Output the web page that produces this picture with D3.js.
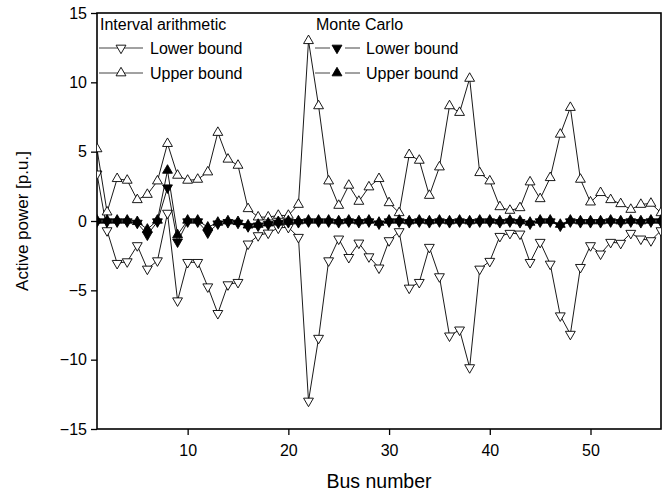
<!DOCTYPE html>
<html><head><meta charset="utf-8">
<script src="https://cdn.jsdelivr.net/npm/d3@7"></script>
<style>body{margin:0;background:#fff}svg{display:block}text{font-family:"Liberation Sans",Arial,sans-serif}</style>
</head><body><svg id="c" width="670" height="494"></svg>
<script>
const buses = d3.range(1, 58);
const iaUpper = [5.2,0.64,3.05,2.93,1.53,1.91,2.88,5.58,3.29,2.93,3.0,3.53,6.38,4.45,4.01,0.88,0.28,0.28,0.4,0.4,1.19,13.0,8.3,2.88,1.12,2.57,1.41,2.45,3.05,1.31,0.59,4.78,4.37,1.84,3.89,8.3,7.82,10.28,3.48,2.88,1.02,0.76,0.95,2.81,1.6,3.12,6.25,8.18,3.0,1.36,2.04,1.53,1.24,0.83,1.19,1.27,0.59];
const iaLower = [3.4,-0.69,-3.05,-2.93,-1.77,-3.46,-2.86,0.57,-5.75,-2.98,-2.98,-4.74,-6.66,-4.59,-4.42,-1.65,-1.05,-0.86,-0.5,-0.45,-1.17,-12.98,-8.45,-2.86,-1.29,-2.62,-1.58,-2.57,-3.38,-1.41,-0.76,-4.83,-4.42,-1.89,-4.01,-8.28,-7.85,-10.57,-3.46,-2.9,-1.1,-0.88,-0.93,-2.98,-1.53,-3.1,-6.83,-8.16,-3.34,-1.77,-2.37,-1.53,-1.6,-0.88,-1.29,-1.41,-0.69];
const mcUpper = [0.05,0.05,0.05,0.05,-0.05,-0.6,0.05,3.65,-1.0,0.05,0.05,-0.45,-0.1,0,-0.05,-0.3,-0.25,-0.15,-0.05,0,0,0.05,0.05,0.05,0,0.05,0,0.05,-0.1,0.05,0.05,0,0.05,0,0.05,0,0.05,0,0.05,0.05,0,0.05,0,-0.1,0.05,0.05,-0.25,0.05,0,0,0,0.05,0,0.05,0,0.05,0.05];
const mcLower = [-0.05,-0.05,-0.05,-0.05,-0.15,-1.0,-0.05,2.4,-1.5,-0.05,-0.05,-0.85,-0.2,-0.1,-0.15,-0.4,-0.35,-0.25,-0.15,-0.1,-0.1,-0.05,-0.05,-0.05,-0.1,-0.05,-0.1,-0.05,-0.2,-0.05,-0.05,-0.1,-0.05,-0.1,-0.05,-0.1,-0.05,-0.1,-0.05,-0.05,-0.1,-0.05,-0.1,-0.2,-0.05,-0.05,-0.35,-0.05,-0.1,-0.1,-0.1,-0.05,-0.1,-0.05,-0.1,-0.05,-0.05];
const xTicks = [10,20,30,40,50];
const yTicks = [-15,-10,-5,0,5,10,15];

const L=97,R=661,T=13,B=429;
const svg = d3.select("#c");
const x = d3.scaleLinear().domain([1,57]).range([L,R]);
const y = d3.scaleLinear().domain([-15,15]).range([B,T]);

const ax = svg.append("g").attr("transform",`translate(0,${B})`)
  .call(d3.axisBottom(x).tickValues(xTicks).tickSize(6).tickSizeOuter(0).tickPadding(10));
const ay = svg.append("g").attr("transform",`translate(${L},0)`)
  .call(d3.axisLeft(y).tickValues(yTicks).tickSize(6).tickSizeOuter(0).tickPadding(4));
[ax,ay].forEach(g=>{g.selectAll("text").attr("font-size",16).attr("fill","#000").style("font-family","Liberation Sans, Arial, sans-serif");
 g.selectAll("line").attr("stroke","#000").attr("stroke-width",1.3);
 g.select(".domain").remove();});
svg.append("rect").attr("x",L).attr("y",T).attr("width",R-L).attr("height",B-T)
  .attr("fill","none").attr("stroke","#000").attr("stroke-width",1.6);

svg.append("defs").append("clipPath").attr("id","pc").append("rect")
  .attr("x",L).attr("y",T-6).attr("width",R-L).attr("height",B-T+12);
const plot = svg.append("g").attr("clip-path","url(#pc)");
const line = d3.line().x((d,i)=>x(buses[i])).y(d=>y(d));
const tri = d3.symbol().type(d3.symbolTriangle).size(42);

function series(vals, down, fill){
  plot.append("path").datum(vals).attr("d",line).attr("fill","none").attr("stroke","#000").attr("stroke-width",0.9);
  plot.selectAll(null).data(vals).enter().append("path").attr("d",tri)
    .attr("transform",(d,i)=>`translate(${x(buses[i])},${y(d)})${down?" rotate(180)":""}`)
    .attr("fill",fill).attr("stroke","#000").attr("stroke-width",0.9);
}
series(iaLower,true,"#fff");
series(iaUpper,false,"#fff");
series(mcLower,true,"#000");
series(mcUpper,false,"#000");

// legend
const lg = svg.append("g").attr("font-size",16).attr("fill","#000");
function legItem(x0,yc,down,fill,label,gap){
  if(gap){
    lg.append("line").attr("x1",x0).attr("x2",x0+15).attr("y1",yc).attr("y2",yc).attr("stroke","#444").attr("stroke-width",1);
    lg.append("line").attr("x1",x0+30).attr("x2",x0+45).attr("y1",yc).attr("y2",yc).attr("stroke","#444").attr("stroke-width",1);
  } else {
    lg.append("line").attr("x1",x0).attr("x2",x0+44).attr("y1",yc).attr("y2",yc).attr("stroke","#444").attr("stroke-width",1);
  }
  lg.append("path").attr("d",tri).attr("transform",`translate(${x0+22},${yc})${down?" rotate(180)":""}`)
    .attr("fill",fill).attr("stroke","#000").attr("stroke-width",0.9);
  lg.append("text").attr("x",x0+51).attr("y",yc).attr("dy","0.35em").text(label);
}
lg.append("text").attr("x",100).attr("y",24).attr("dy","0.35em").text("Interval arithmetic");
legItem(99,48,true,"#fff","Lower bound",false);
legItem(99,73,false,"#fff","Upper bound",false);
lg.append("text").attr("x",316).attr("y",24).attr("dy","0.35em").text("Monte Carlo");
legItem(315,48,true,"#000","Lower bound",true);
legItem(315,73,false,"#000","Upper bound",true);

svg.append("text").attr("x",(L+R)/2).attr("y",481).attr("dy","0.35em").attr("text-anchor","middle")
  .attr("font-size",19.5).text("Bus number");
svg.append("text").attr("transform",`translate(22,${(T+B)/2}) rotate(-90)`).attr("dy","0.35em").attr("text-anchor","middle")
  .attr("font-size",17).text("Active power [p.u.]");
</script></body></html>
